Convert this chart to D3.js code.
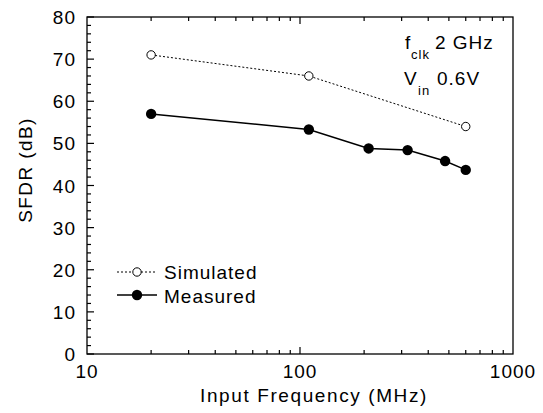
<!DOCTYPE html>
<html><head><meta charset="utf-8">
<script src="https://cdn.jsdelivr.net/npm/d3@7"></script>
<style>body{margin:0;background:#fff}svg{display:block}text,tspan{font-family:"Liberation Sans",Arial,sans-serif;fill:#000;letter-spacing:1px}</style>
</head><body><svg id="c" width="543" height="413"></svg>
<script>
const simFreq = [20, 110, 600];
const simSFDR = [71, 66, 54];
const measFreq = [20, 110, 210, 320, 480, 600];
const measSFDR = [57, 53.3, 48.8, 48.4, 45.8, 43.7];
const yTicks = [0, 10, 20, 30, 40, 50, 60, 70, 80];
const xTicks = [10, 100, 1000];
const legendLabels = ["Simulated", "Measured"];

const svg = d3.select("#c");
const L = 87, R = 513, T = 17, B = 354;
const FS = 19;
const x = d3.scaleLog().domain([10, 1000]).range([L, R]);
const y = d3.scaleLinear().domain([0, 80]).range([B, T]);

// frame
svg.append("rect").attr("x", L).attr("y", T).attr("width", R - L).attr("height", B - T)
  .attr("fill", "none").attr("stroke", "#000").attr("stroke-width", 1.3);

// y ticks (left, inward)
const yMinor = d3.range(0, 81, 2);
svg.append("g").selectAll("line").data(yMinor).join("line")
  .attr("x1", L).attr("x2", d => L + (d % 10 === 0 ? 7 : 4))
  .attr("y1", d => y(d)).attr("y2", d => y(d)).attr("stroke", "#000").attr("stroke-width", 1.2);
svg.append("g").selectAll("text").data(yTicks).join("text")
  .attr("x", 76).attr("y", d => y(d) + 7).attr("text-anchor", "end")
  .attr("font-size", FS).text(d => d);

// x ticks (bottom & top, inward)
const xMinor = [];
[10, 100].forEach(dec => { for (let k = 2; k <= 9; k++) xMinor.push(dec * k); });
const xAll = xMinor.concat([100]);
[B, T].forEach(yy => {
  const dir = yy === B ? -1 : 1;
  svg.append("g").selectAll("line").data(xAll).join("line")
    .attr("x1", d => x(d)).attr("x2", d => x(d))
    .attr("y1", yy).attr("y2", d => yy + dir * (d === 100 ? 7 : 4))
    .attr("stroke", "#000").attr("stroke-width", 1.2);
});
svg.append("g").selectAll("text").data(xTicks).join("text")
  .attr("x", d => x(d)).attr("y", 378).attr("text-anchor", "middle")
  .attr("font-size", FS).text(d => d);

// axis titles
svg.append("text").attr("x", 314).attr("y", 402).attr("text-anchor", "middle")
  .attr("font-size", FS).style("letter-spacing", "1.6px").text("Input Frequency (MHz)");
svg.append("text").attr("transform", "translate(32,170) rotate(-90)").attr("text-anchor", "middle")
  .attr("font-size", FS).style("letter-spacing", "1.4px").text("SFDR (dB)");

// series
const sim = simFreq.map((f, i) => [f, simSFDR[i]]);
const meas = measFreq.map((f, i) => [f, measSFDR[i]]);
const line = d3.line().x(d => x(d[0])).y(d => y(d[1]));
svg.append("path").datum(sim).attr("d", line).attr("fill", "none")
  .attr("stroke", "#000").attr("stroke-width", 1).attr("stroke-dasharray", "2,2");
svg.append("path").datum(meas).attr("d", line).attr("fill", "none")
  .attr("stroke", "#000").attr("stroke-width", 1.5);
svg.append("g").selectAll("circle").data(sim).join("circle")
  .attr("cx", d => x(d[0])).attr("cy", d => y(d[1])).attr("r", 4.2)
  .attr("fill", "#fff").attr("stroke", "#000").attr("stroke-width", 1);
svg.append("g").selectAll("circle").data(meas).join("circle")
  .attr("cx", d => x(d[0])).attr("cy", d => y(d[1])).attr("r", 5.2)
  .attr("fill", "#000");

// legend
const lg = svg.append("g");
lg.append("line").attr("x1", 117).attr("x2", 157).attr("y1", 272).attr("y2", 272)
  .attr("stroke", "#000").attr("stroke-width", 1).attr("stroke-dasharray", "2,2");
lg.append("circle").attr("cx", 137).attr("cy", 272).attr("r", 4.2)
  .attr("fill", "#fff").attr("stroke", "#000");
lg.append("text").attr("x", 164).attr("y", 279).attr("font-size", FS).text(legendLabels[0]);
lg.append("line").attr("x1", 117).attr("x2", 157).attr("y1", 295).attr("y2", 295)
  .attr("stroke", "#000").attr("stroke-width", 1.5);
lg.append("circle").attr("cx", 137).attr("cy", 295).attr("r", 5.2).attr("fill", "#000");
lg.append("text").attr("x", 164).attr("y", 303).attr("font-size", FS).text(legendLabels[1]);

// annotation
const a1 = svg.append("text").attr("x", 405).attr("y", 49).attr("font-size", FS);
a1.append("tspan").attr("fill", "#000").text("f");
a1.append("tspan").attr("fill", "#000").attr("font-size", 13).attr("dy", 10).attr("x", 411).text("clk");
a1.append("tspan").attr("fill", "#000").attr("x", 435).attr("dy", -10).text("2 GHz");
const a2 = svg.append("text").attr("x", 404).attr("y", 85).attr("font-size", FS);
a2.append("tspan").attr("fill", "#000").text("V");
a2.append("tspan").attr("fill", "#000").attr("font-size", 13).attr("dy", 10).attr("x", 418).text("in");
a2.append("tspan").attr("fill", "#000").attr("x", 437).attr("dy", -10).text("0.6V");
</script></body></html>
